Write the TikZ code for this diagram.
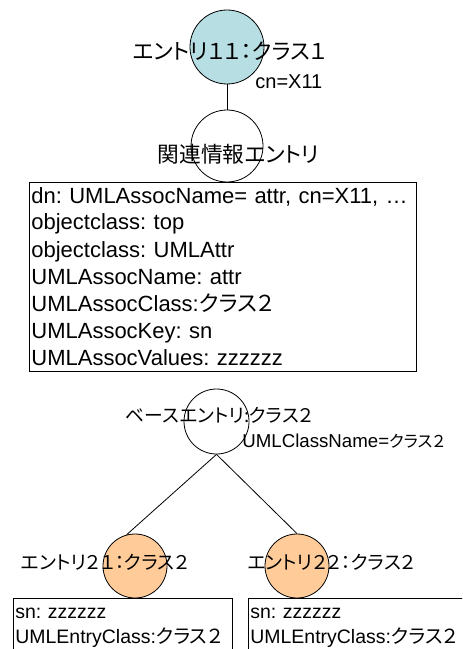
\documentclass[tikz,border=0pt]{standalone}
\usepackage{fontspec}
\setmainfont{Liberation Sans}
\newfontfamily\jp[RawFeature=+palt]{Noto Sans CJK JP}
\definecolor{entblue}{HTML}{B7DEE3}
\definecolor{entorange}{HTML}{FFCC99}
\frenchspacing
\begin{document}
\begin{tikzpicture}[x=0.75pt,y=-0.75pt,line width=0.6pt,
  entity/.style={circle,draw,inner sep=0pt,minimum size=#1},
  lbl/.style={font=\fontsize{#1}{18}\selectfont,inner sep=0pt,anchor=base},
  lblw/.style={font=\fontsize{#1}{18}\selectfont,inner sep=0pt,anchor=base west},
  attrbox/.style={draw,fill=white,inner sep=0pt,anchor=north west},
  attrtext/.style={inner sep=0pt,anchor=base west,align=left,text width=#1}]
\useasboundingbox (0,0) rectangle (462,649);
\clip (0,0) rectangle (462,649);
% top entry and related entry
\node[entity=55.5pt,fill=entblue] (e11) at (227,47) {};
\node[entity=54pt,fill=white] (rel) at (227,146) {};
\draw (e11) -- (rel);
\node[lbl=16.4] (e11lbl) at (229.5,60) {{\jp エントリ１１：クラス１}};
\node[lblw=15] (e11cn) at (255,89) {cn=X11};
\node[lbl=16.3] (rellbl) at (238.5,162) {{\jp 関連情報エントリ}};
\node[attrbox,minimum width=290.25pt,minimum height=141.75pt] (relbox) at (29,182) {};
\node[attrtext=288pt,font=\fontsize{16.5}{20.25}\selectfont] (reltext) at (31,203)
  {dn: UMLAssocName= attr, cn=X11, \ldots\\
   objectclass: top\\
   objectclass: UMLAttr\\
   UMLAssocName: attr\\
   UMLAssocClass:{\jp クラス２}\\
   UMLAssocKey: sn\\
   UMLAssocValues: zzzzzz};
% base entry
\node[entity=48.75pt,fill=white] (base) at (216.5,421.5) {};
\node[entity=48pt,fill=entorange] (e21) at (135,566) {};
\node[entity=48pt,fill=entorange] (e22) at (297,566) {};
\draw (base.south) -- (e21.105);
\draw (base.south) -- (e22.north);
\node[lbl=14.1] (baselbl) at (219.5,422) {{\jp ベースエントリ:クラス２}};
\node[lblw=14] (basecn) at (242,447) {UMLClassName={\jp\fontsize{12.3}{14}\selectfont クラス２}};
\node[lbl=14.2] (e21lbl) at (105,569) {{\jp エントリ２１：クラス２}};
\node[lbl=14.2] (e22lbl) at (331.5,569) {{\jp エントリ２２：クラス２}};
% leaf attribute boxes
\node[attrbox,minimum width=164.25pt,minimum height=45pt] (box21) at (13,598) {};
\node[attrbox,minimum width=165pt,minimum height=45pt] (box22) at (248,598) {};
\node[attrtext=158pt,font=\fontsize{14.6}{18.75}\selectfont] (text21) at (15,618)
  {sn: zzzzzz\\UMLEntryClass:{\jp クラス２}};
\node[attrtext=158pt,font=\fontsize{14.6}{18.75}\selectfont] (text22) at (250,618)
  {sn: zzzzzz\\UMLEntryClass:{\jp クラス２}};
\end{tikzpicture}
\end{document}
